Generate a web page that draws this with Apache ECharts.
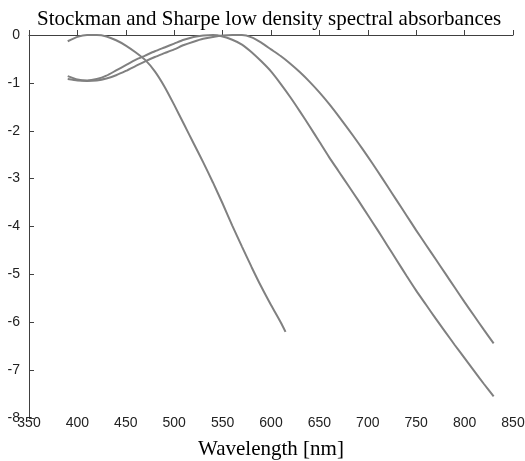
<!DOCTYPE html>
<html>
<head>
<meta charset="utf-8">
<script src="https://cdn.jsdelivr.net/npm/echarts@6/dist/echarts.min.js"></script>
<style>html,body{margin:0;padding:0;background:#fff}#c{width:525px;height:461px}</style>
</head>
<body>
<div id="c"></div>
<script>
const wavelengths = [390,400,410,420,430,440,450,460,470,480,490,500,510,520,530,540,550,560,570,580,590,600,610,620,630,640,650,660,670,680,690,700,710,720,730,740,750,760,770,780,790,800,810,820,830];
const sWavelengths = [390,400,410,420,430,440,450,460,470,480,490,500,510,520,530,540,550,560,570,580,590,600,610,615];
const sCone = [-0.13,-0.04,0,0,-0.03,-0.11,-0.22,-0.36,-0.52,-0.76,-1.08,-1.46,-1.86,-2.26,-2.66,-3.08,-3.52,-3.98,-4.42,-4.85,-5.26,-5.64,-6.0,-6.2];
const mCone = [-0.86,-0.93,-0.95,-0.92,-0.85,-0.74,-0.63,-0.52,-0.43,-0.34,-0.26,-0.18,-0.1,-0.04,-0.01,0,-0.03,-0.1,-0.2,-0.36,-0.55,-0.76,-1.02,-1.3,-1.6,-1.91,-2.23,-2.55,-2.85,-3.15,-3.45,-3.76,-4.07,-4.39,-4.71,-5.03,-5.34,-5.63,-5.92,-6.2,-6.48,-6.75,-7.02,-7.29,-7.55];
const lCone = [-0.92,-0.95,-0.96,-0.95,-0.91,-0.84,-0.75,-0.65,-0.55,-0.46,-0.38,-0.3,-0.21,-0.14,-0.08,-0.04,-0.01,0,0,-0.05,-0.16,-0.3,-0.44,-0.6,-0.78,-0.98,-1.2,-1.44,-1.7,-1.97,-2.25,-2.54,-2.84,-3.15,-3.46,-3.77,-4.08,-4.38,-4.68,-4.98,-5.28,-5.58,-5.87,-6.16,-6.44];
const xTicks = [350,400,450,500,550,600,650,700,750,800,850];
const yTicks = [0,-1,-2,-3,-4,-5,-6,-7,-8];

function pairs(xs, vals){ return vals.map((v,i)=>[xs[i], v]); }

const chart = echarts.init(document.getElementById('c'), null, {renderer:'canvas'});
const lineStyle = {color:'#808080', width:2};
chart.setOption({
  animation:false,
  title:{text:'Stockman and Sharpe low density spectral absorbances', left:32, top:4,
    textStyle:{fontFamily:'Liberation Serif', fontSize:21, fontWeight:'normal', color:'#000'}},
  grid:{left:29, right:12, top:35, bottom:43, containLabel:false, outerBoundsMode:'none'},
  xAxis:{type:'value', min:xTicks[0], max:xTicks[xTicks.length-1], interval:50,
    name:'Wavelength [nm]', nameLocation:'middle', nameGap:21,
    nameTextStyle:{fontFamily:'Liberation Serif', fontSize:21, color:'#000'},
    axisLine:{lineStyle:{color:'#404040', width:1}},
    axisTick:{inside:true, length:5, lineStyle:{color:'#404040'}},
    axisLabel:{fontFamily:'Liberation Sans', fontSize:14, color:'#222', margin:-2},
    splitLine:{show:false}},
  yAxis:{type:'value', min:yTicks[yTicks.length-1], max:yTicks[0], interval:1,
    axisLine:{show:true, lineStyle:{color:'#404040', width:1}},
    axisTick:{show:true, inside:true, length:5, lineStyle:{color:'#404040'}},
    axisLabel:{fontFamily:'Liberation Sans', fontSize:14, color:'#222', margin:9},
    splitLine:{show:false}},
  series:[
    {type:'line', data:pairs(sWavelengths, sCone), showSymbol:false, smooth:0.2, lineStyle},
    {type:'line', data:pairs(wavelengths, mCone), showSymbol:false, smooth:0.2, lineStyle},
    {type:'line', data:pairs(wavelengths, lCone), showSymbol:false, smooth:0.2, lineStyle}
  ]
});
</script>
</body>
</html>
